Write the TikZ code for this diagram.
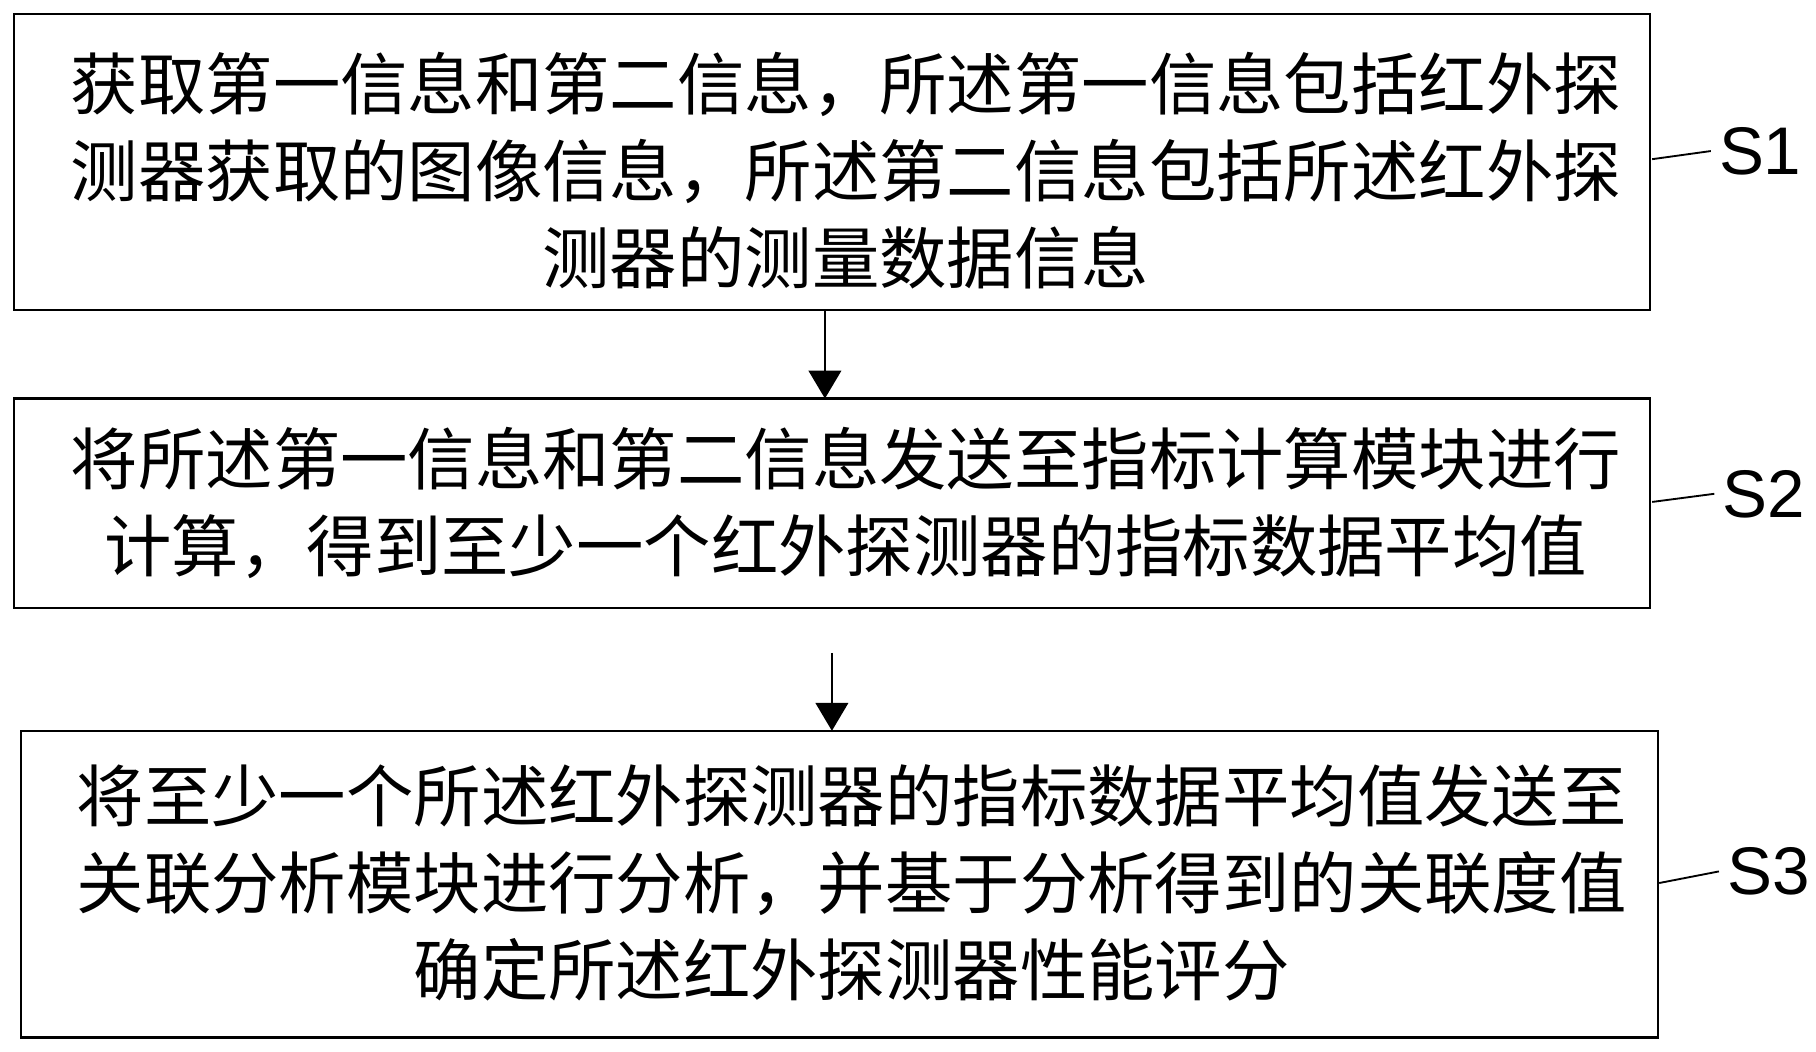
\documentclass[tikz,border=0pt]{standalone}
\usepackage{fontspec}
\setmainfont{Liberation Sans}
\newfontfamily\cjk{Noto Sans CJK SC}
\usetikzlibrary{arrows.meta}
\begin{document}
\begin{tikzpicture}[x=0.5pt,y=-0.5pt,
  box/.style={draw,line width=1pt,inner sep=0pt},
  txt/.style={font=\cjk\fontsize{29}{37.5}\selectfont,align=center,text width=700pt},
  arr/.style={line width=1pt,-{Triangle[length=12pt,width=14pt]}},
  lead/.style={line width=0.8pt},
  lab/.style={font=\fontsize{29}{32}\selectfont}]
\useasboundingbox (0,0) rectangle (1563,905);
\draw[box] (12,12) rectangle (1420,267);
\draw[box] (12,343) rectangle (1420,523);
\draw[box] (18,629) rectangle (1427,893);
\node[txt] (t1) at (728,147) {获取第一信息和第二信息，所述第一信息包括红外探\\测器获取的图像信息，所述第二信息包括所述红外探\\测器的测量数据信息};
\node[txt] (t2) at (728,433) {将所述第一信息和第二信息发送至指标计算模块进行\\计算，得到至少一个红外探测器的指标数据平均值};
\node[txt] (t3) at (733,760) {将至少一个所述红外探测器的指标数据平均值发送至\\关联分析模块进行分析，并基于分析得到的关联度值\\确定所述红外探测器性能评分};
\coordinate (a1s) at (710,267);
\coordinate (a1e) at (710,343);
\coordinate (a2s) at (716,562);
\coordinate (a2e) at (716,629);
\draw[arr] (a1s) -- (a1e);
\draw[arr] (a2s) -- (a2e);
\node[lab] (s1) at (1515,130) {S1};
\node[lab] (s2) at (1518,425) {S2};
\node[lab] (s3) at (1522,750) {S3};
\draw[lead] (1422,137) -- (s1.west);
\draw[lead] (1422,432) -- (s2.west);
\draw[lead] (1428,760) -- (s3.west);
\end{tikzpicture}
\end{document}
